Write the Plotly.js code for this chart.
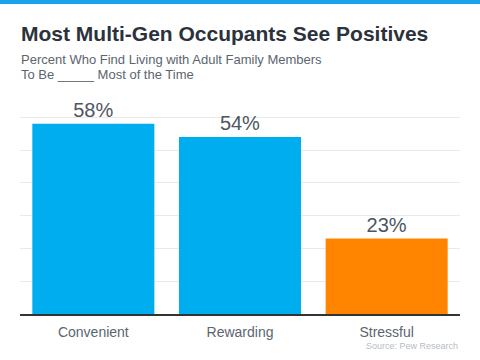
<!DOCTYPE html>
<html><head><meta charset="utf-8">
<script src="https://cdn.plot.ly/plotly-3.0.1.min.js"></script>
<style>html,body{margin:0;padding:0;background:#fff;}#chart{width:480px;height:360px;}</style>
</head><body><div id="chart"></div>
<script>
const categories = ["Convenient", "Rewarding", "Stressful"];
const values = [58, 54, 23];
const labels = ["58%", "54%", "23%"];
const barColors = ["#00aeef", "#00aeef", "#ff8500"];

const L = 20, R = 20, T = 114, B = 46, W = 480, H = 360;
const pw = W - L - R, ph = H - T - B;

const trace = {
  type: "bar", x: categories, y: values, text: labels,
  textposition: "outside", cliponaxis: false,
  textfont: {family: "Arial, Liberation Sans, sans-serif", size: 20, color: "#4d5662"},
  marker: {color: barColors}, hoverinfo: "none"
};

const layout = {
  width: W, height: H, margin: {l: L, r: R, t: T, b: B},
  paper_bgcolor: "#fff", plot_bgcolor: "#fff", showlegend: false, bargap: 0.168,
  font: {family: "Arial, Liberation Sans, sans-serif"},
  xaxis: {tickfont: {size: 14, color: "#5b6570"}, showline: true, linecolor: "#333", linewidth: 1.5,
          ticks: "", ticklabelstandoff: 5, showgrid: false, fixedrange: true},
  yaxis: {range: [0, 61], tickvals: [10, 20, 30, 40, 50, 60], showticklabels: false, showgrid: true,
          gridcolor: "#e9e9e9", gridwidth: 1, zeroline: false, fixedrange: true},
  shapes: [{type: "rect", xref: "paper", yref: "paper", x0: -L / pw, x1: (pw + R) / pw,
            y0: (ph + T - 4) / ph, y1: (ph + T) / ph, fillcolor: "#1aa3e8", line: {width: 0}}],
  annotations: [
    {xref: "paper", yref: "paper", x: -1 / pw, y: (ph + T - 33) / ph, xanchor: "left", yanchor: "middle",
     text: "<b>Most Multi-Gen Occupants See Positives</b>", showarrow: false,
     font: {size: 21, color: "#2b323c"}},
    {xref: "paper", yref: "paper", x: -1 / pw, y: (ph + T - 59) / ph, xanchor: "left", yanchor: "middle",
     text: "Percent Who Find Living with Adult Family Members", showarrow: false,
     font: {size: 13, color: "#5b6570"}},
    {xref: "paper", yref: "paper", x: -1 / pw, y: (ph + T - 75) / ph, xanchor: "left", yanchor: "middle",
     text: "To Be _____ Most of the Time", showarrow: false,
     font: {size: 13, color: "#5b6570"}},
    {xref: "paper", yref: "paper", x: 1, y: -(346 - (T + ph)) / ph, xanchor: "right", yanchor: "middle",
     text: "Source: Pew Research", showarrow: false, font: {size: 9, color: "#b5bdc6"}}
  ]
};

Plotly.newPlot("chart", [trace], layout, {displayModeBar: false, staticPlot: true});
</script></body></html>
